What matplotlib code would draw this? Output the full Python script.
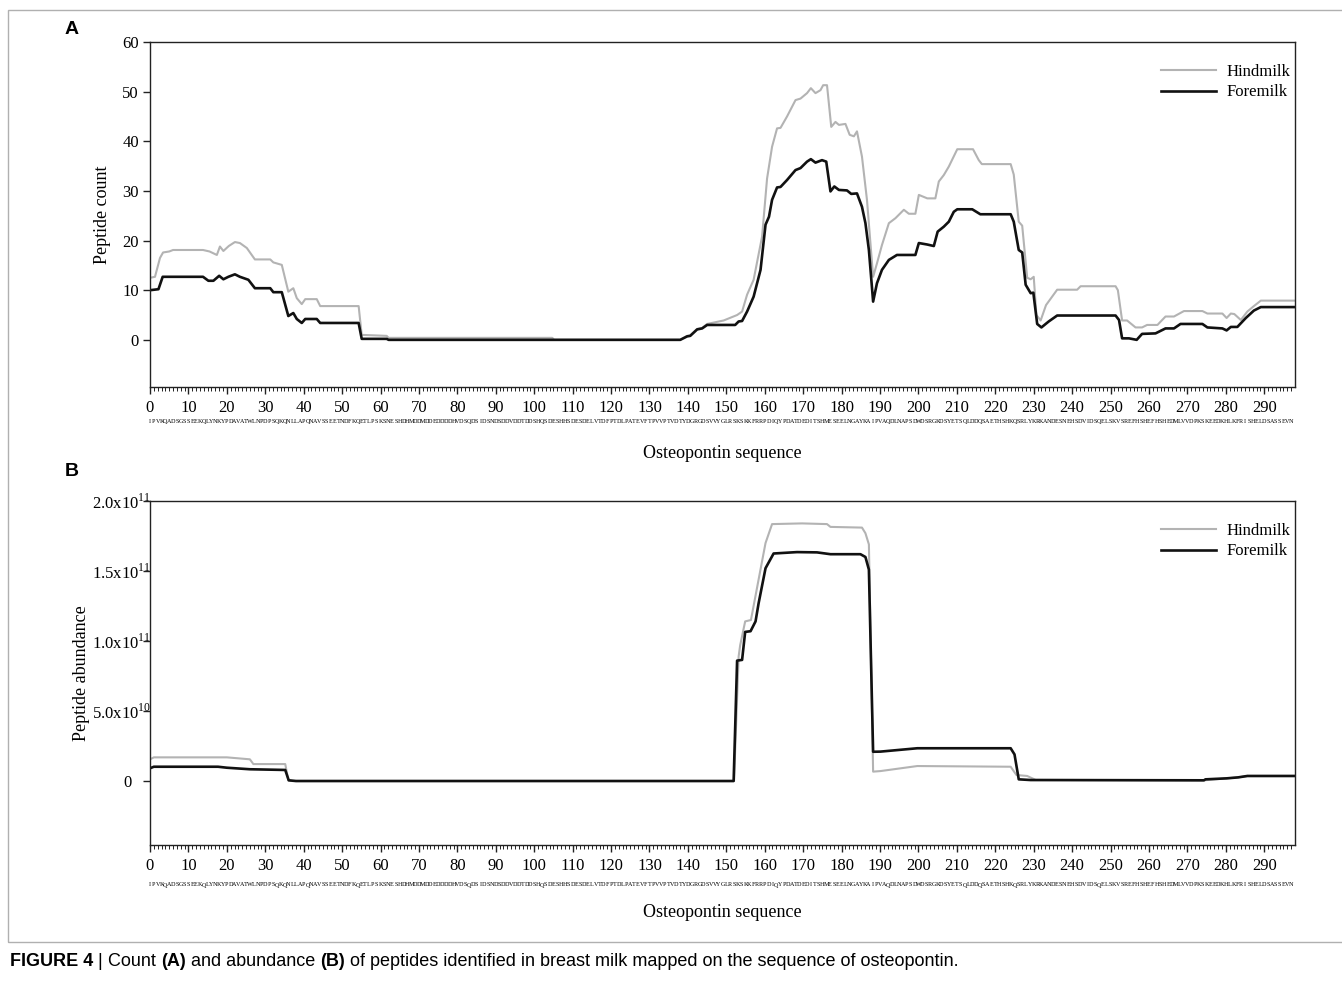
import matplotlib

matplotlib.use("Agg")
import matplotlib.pyplot as plt
import numpy as np
from matplotlib.patches import Rectangle
from matplotlib.ticker import FixedFormatter, FixedLocator, MultipleLocator

# mature human osteopontin (signal peptide removed), one letter per residue
SEQUENCE = (
    "IPVKQADSGSSEEKQLYNKYPDAVATWLNPDPSQKQNLLAPQNAVSSEETNDFKQETLPSKSNE"
    "SHDHMDDMDDEDDDDHVDSQDSIDSNDSDDVDDTDDSHQSDESHHSDESDELVTDFPTDL"
    "PATEVFTPVVPTVDTYDGRGDSVVYGLRSKSKKFRRPDIQYPDATDEDITSHMESEELNG"
    "AYKAIPVAQDLNAPSDWDSRGKDSYETSQLDDQSAETHSHKQSRLYKRKANDESNEHSDV"
    "IDSQELSKVSREFHSHEFHSHEDMLVVDPKSKEEDKHLKFRISHELDSASSEVN"
)

# panel A: peptide count
hind_count_x = [0, 1.3, 2.6, 3.4, 5, 6, 13.8, 15.5, 17.4, 18.2, 19.1, 20.5, 22.1, 23.4,
                25.2, 27.3, 31.3, 32.1, 34.3, 36.0, 37.3, 38.2, 39.5, 40.4, 43.4, 44.3,
                54.3, 55.1, 61.6, 62.1, 104.7, 105.2, 138.0, 139.8, 140.6, 142.4, 143.7,
                145.0, 149.3, 152.8, 154.1, 155.4, 157.1, 159.3, 160.6, 161.9, 163.2,
                164.1, 165.8, 168.0, 169.3, 171.0, 172.0, 173.2, 174.5, 175.2, 176.2,
                177.3, 178.4, 179.3, 181.0, 182.1, 183.2, 184.0, 185.3, 186.6, 188.2,
                189.2, 190.5, 192.3, 194.0, 196.2, 197.5, 199.2, 200.1, 202.3, 204.4,
                205.3, 206.6, 207.9, 210.1, 214.2, 215.7, 216.5, 224.0, 224.8, 226.1,
                227.0, 228.3, 229.2, 230.0, 230.7, 231.8, 233.2, 236.1, 241.3, 242.2,
                251.3, 251.9, 253.0, 254.3, 256.5, 258.2, 259.5, 262.2, 264.3, 266.5,
                269.1, 273.9, 275.2, 279.1, 280.2, 281.3, 282.2, 283.9, 285.6, 287.3,
                289.1, 298]
hind_count_y = [12.5, 12.7, 16.5, 17.6, 17.8, 18.1, 18.1, 17.8, 17.1, 18.8, 17.9, 18.9,
                19.7, 19.5, 18.5, 16.2, 16.2, 15.6, 15.1, 9.7, 10.4, 8.4, 7.2, 8.2, 8.2,
                6.8, 6.8, 1.0, 0.8, 0.4, 0.4, 0.0, 0.0, 0.8, 0.9, 2.2, 2.4, 3.2, 3.9,
                5.0, 5.7, 9.1, 12.1, 20.8, 32.5, 38.9, 42.6, 42.7, 45.0, 48.3, 48.6,
                49.7, 50.7, 49.7, 50.3, 51.3, 51.3, 42.9, 43.9, 43.3, 43.5, 41.3, 41.0,
                42.0, 36.9, 28.2, 12.7, 15.4, 19.1, 23.5, 24.5, 26.2, 25.4, 25.4, 29.2,
                28.5, 28.5, 31.9, 33.2, 34.9, 38.4, 38.4, 36.2, 35.4, 35.4, 33.3, 23.8,
                23.0, 12.5, 12.2, 12.7, 5.0, 3.9, 7.0, 10.1, 10.1, 10.8, 10.8, 10.0,
                3.9, 3.9, 2.5, 2.5, 3.0, 3.0, 4.7, 4.7, 5.8, 5.8, 5.3, 5.3, 4.4, 5.3,
                5.2, 4.0, 5.7, 6.8, 7.9, 7.9]

fore_count_x = [0, 2.2, 3.3, 13.8, 15.2, 16.5, 18.0, 19.1, 20.4, 22.1, 23.4, 25.6, 27.3,
                31.3, 32.1, 34.3, 36.0, 37.3, 38.2, 39.5, 40.4, 43.4, 44.3, 54.3, 55.1,
                61.6, 62.1, 138.0, 139.8, 140.6, 142.4, 143.7, 145.0, 152.3, 153.2,
                154.1, 155.4, 157.1, 158.9, 160.2, 161.1, 161.9, 163.2, 164.1, 165.8,
                168.0, 169.3, 171.0, 172.0, 173.2, 174.9, 176.0, 177.1, 178.1, 179.3,
                181.4, 182.5, 184.0, 185.3, 186.2, 187.1, 188.2, 189.2, 190.5, 192.3,
                194.4, 199.2, 200.1, 202.3, 204.0, 205.0, 206.6, 207.9, 209.2, 210.1,
                214.0, 216.1, 224.0, 224.8, 226.1, 227.0, 227.9, 229.2, 229.9, 230.9,
                232.0, 233.9, 236.1, 251.3, 252.2, 253.0, 254.8, 256.8, 258.2, 261.7,
                264.3, 266.5, 268.2, 273.9, 275.2, 279.1, 280.2, 281.3, 283.0, 285.2,
                287.3, 289.1, 298]
fore_count_y = [10.0, 10.2, 12.7, 12.7, 11.9, 11.9, 12.9, 12.2, 12.7, 13.2, 12.7, 12.1,
                10.4, 10.4, 9.6, 9.6, 4.8, 5.4, 4.2, 3.4, 4.2, 4.2, 3.4, 3.4, 0.2, 0.2,
                0.0, 0.0, 0.7, 0.8, 2.1, 2.3, 3.0, 3.0, 3.7, 3.8, 5.7, 8.7, 14.1, 23.2,
                24.8, 28.2, 30.7, 30.8, 32.2, 34.2, 34.6, 35.9, 36.4, 35.7, 36.2, 35.9,
                29.9, 30.9, 30.2, 30.1, 29.4, 29.5, 26.8, 23.5, 18.1, 7.7, 11.4, 14.1,
                16.1, 17.1, 17.1, 19.5, 19.2, 18.9, 21.8, 22.8, 23.8, 25.8, 26.3, 26.3,
                25.3, 25.3, 23.8, 18.1, 17.6, 11.1, 9.4, 9.5, 3.2, 2.5, 3.7, 4.9, 4.9,
                4.0, 0.3, 0.3, 0.0, 1.2, 1.3, 2.3, 2.3, 3.2, 3.2, 2.5, 2.3, 1.9, 2.6,
                2.6, 4.4, 5.9, 6.6, 6.6]

# panel B: peptide abundance, in units of 1e10
hind_abund_x = [0, 1, 20, 26, 26.9, 35.2, 36.0, 37, 152.0, 153.2, 153.6, 154.9, 156.4,
                159.3, 160.2, 161.9, 169.7, 176.2, 177.1, 185.3, 186.2, 187.1, 188.2,
                190.1, 199.7, 224.0, 225.5, 228.3, 230.5, 274.3, 280.2, 283.2, 285.6, 298]
hind_abund_y = [1.55, 1.69, 1.69, 1.55, 1.21, 1.21, 0.05, 0.0, 0.0, 8.9, 9.7, 11.4, 11.5,
                15.7, 17.0, 18.35, 18.4, 18.35, 18.15, 18.1, 17.7, 16.9, 0.67, 0.71, 1.07,
                1.02, 0.43, 0.36, 0.08, 0.05, 0.19, 0.26, 0.36, 0.36]

fore_abund_x = [0, 1, 17.7, 20, 26, 35.2, 36.1, 38, 151.9, 152.8, 154.1, 154.9, 156.3,
                157.6, 158.4, 160.2, 162.3, 168.4, 173.6, 177.1, 184.9, 186.2, 187.1,
                188.2, 190.1, 199.7, 224.0, 225.0, 226.1, 229.2, 274.3, 274.7, 280.2,
                283.2, 285.6, 298]
fore_abund_y = [0.91, 1.02, 1.02, 0.95, 0.84, 0.79, 0.05, 0.0, 0.0, 8.6, 8.65, 10.65,
                10.7, 11.4, 12.7, 15.2, 16.25, 16.35, 16.33, 16.2, 16.2, 16.0, 15.1, 2.09,
                2.1, 2.34, 2.34, 1.9, 0.12, 0.07, 0.05, 0.12, 0.19, 0.26, 0.36, 0.36]

count_ticks = [0, 10, 20, 30, 40, 50, 60]
abund_ticks = [0, 5e10, 1e11, 1.5e11, 2e11]
abund_labels = ["0", "5.0x10$^{10}$", "1.0x10$^{11}$", "1.5x10$^{11}$", "2.0x10$^{11}$"]
series_labels = ["Hindmilk", "Foremilk"]

HIND_COLOR = "#b3b3b3"
FORE_COLOR = "#111111"
W, H = 1342, 990

plt.rcParams["font.family"] = ["Liberation Serif", "DejaVu Serif"]
plt.rcParams["mathtext.fontset"] = "custom"
plt.rcParams["mathtext.rm"] = "Liberation Serif"


def px_box(left, top, right, bottom):
    return [left / W, 1 - bottom / H, (right - left) / W, (bottom - top) / H]


def style_axes(ax, ylim, seq_pad, ypad):
    n = len(SEQUENCE)
    ax.set_xlim(0, n)
    ax.set_ylim(*ylim)
    for sp in ax.spines.values():
        sp.set_linewidth(1.0)
        sp.set_color("#222222")
    ax.xaxis.set_major_locator(MultipleLocator(10))
    ax.xaxis.set_minor_locator(FixedLocator(np.arange(n)))
    ax.xaxis.set_minor_formatter(FixedFormatter(list(SEQUENCE)))
    ax.xaxis.remove_overlapping_locs = False
    ax.tick_params(axis="x", which="major", length=5, width=1, pad=4, labelsize=12,
                   color="#222222")
    ax.tick_params(axis="x", which="minor", length=3, width=0.7, pad=seq_pad,
                   labelsize=4.4, color="#222222")
    ax.tick_params(axis="y", which="major", length=5, width=1, pad=ypad, labelsize=12,
                   color="#222222")


def draw_series(ax, hx, hy, fx, fy):
    ax.plot(hx, hy, color=HIND_COLOR, lw=1.5, label=series_labels[0])
    ax.plot(fx, fy, color=FORE_COLOR, lw=1.9, label=series_labels[1])
    ax.legend(loc="upper right", bbox_to_anchor=(1.0, 0.95), frameon=False,
              fontsize=12, handlelength=3.3, handletextpad=0.6, labelspacing=0.25,
              borderpad=0, borderaxespad=0.3)


def caption(fig, x, y, parts, size=13):
    renderer = fig.canvas.get_renderer()
    for text, weight in parts:
        t = fig.text(x, y, text, fontsize=size, fontweight=weight, va="center",
                     ha="left", family=["Liberation Sans", "DejaVu Sans"])
        bb = t.get_window_extent(renderer=renderer)
        x += bb.width / W


def main() -> None:
    fig = plt.figure(figsize=(W / 100, H / 100), dpi=100)

    ax_a = fig.add_axes(px_box(150, 42, 1295, 387))
    draw_series(ax_a, hind_count_x, hind_count_y, fore_count_x, fore_count_y)
    style_axes(ax_a, (-9.5, 60), seq_pad=20, ypad=3)
    ax_a.yaxis.set_major_locator(FixedLocator(count_ticks))
    ax_a.set_ylabel("Peptide count", fontsize=13, labelpad=8)
    ax_a.set_xlabel("Osteopontin sequence", fontsize=13, labelpad=15)

    ax_b = fig.add_axes(px_box(150, 501, 1295, 845))
    draw_series(ax_b, hind_abund_x, np.array(hind_abund_y) * 1e10,
                fore_abund_x, np.array(fore_abund_y) * 1e10)
    style_axes(ax_b, (-4.57e10, 2.0e11), seq_pad=24, ypad=-5.5)
    ax_b.yaxis.set_major_locator(FixedLocator(abund_ticks))
    ax_b.yaxis.set_major_formatter(FixedFormatter(abund_labels))
    # the plain "0" sits clear of the axis, the x10^n labels run up to it
    ax_b.yaxis.get_major_ticks()[0].set_pad(8)
    ax_b.set_ylabel("Peptide abundance", fontsize=13, labelpad=1)
    ax_b.set_xlabel("Osteopontin sequence", fontsize=13, labelpad=12)

    for letter, ypx in (("A", 30), ("B", 472)):
        fig.text(72 / W, 1 - ypx / H, letter, fontsize=14, fontweight="bold",
                 ha="center", va="center", family="Liberation Sans")

    fig.add_artist(Rectangle((8 / W, 1 - 942 / H), 1.0, (942 - 10) / H,
                             transform=fig.transFigure, fill=False,
                             edgecolor="#b0b0b0", lw=1.0))

    caption(fig, 10 / W, 1 - 961 / H, [
        ("FIGURE 4", "bold"), (" | ", "normal"), ("Count ", "normal"),
        ("(A)", "bold"), (" and abundance ", "normal"), ("(B)", "bold"),
        (" of peptides identified in breast milk mapped on the sequence of osteopontin.",
         "normal"),
    ])

    fig.savefig("out.png", dpi=100)


if __name__ == "__main__":
    main()
